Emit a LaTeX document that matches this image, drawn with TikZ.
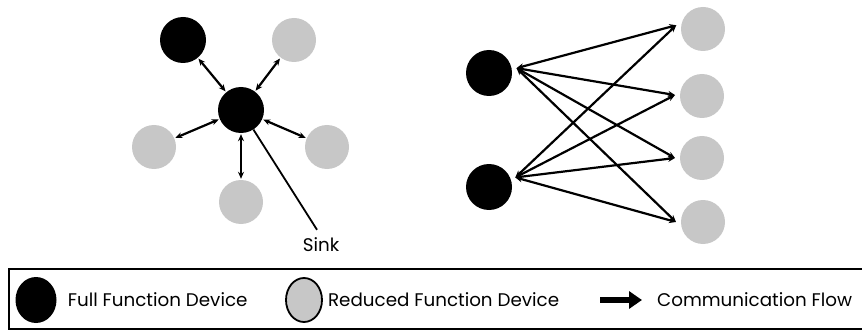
\documentclass[tikz,border=0pt]{standalone}
\usepackage{fontspec}
\setmainfont{Poppins}
\usetikzlibrary{arrows.meta, positioning, shapes.geometric}
\colorlet{device edge}{black}
\colorlet{device area}{black!22}
\tikzset{
  full/.style={circle, fill=black, minimum size=46pt, inner sep=0pt},
  reduced/.style={circle, fill=device area, minimum size=44pt, inner sep=0pt},
  link/.style={<->, line width=2.2pt, >={Stealth[length=7pt,width=6pt]}},
  label/.style={inner sep=0pt, font=\fontsize{18.3}{20}\selectfont},
  legend full/.style={ellipse, fill=black, minimum width=41pt, minimum height=46pt, inner sep=0pt},
  legend reduced/.style={ellipse, fill=device area, draw=device edge, line width=1.8pt, minimum width=36pt, minimum height=44pt, inner sep=0pt},
  flow/.style={-{Triangle[length=13pt,width=17pt]}, line width=6pt}
}
\begin{document}
\begin{tikzpicture}[x=1pt, y=-1pt]
    \useasboundingbox (0,0) rectangle (862,334);
    % star around the sink
    \node[full] (sink) at (241,110) {};
    \node[full] (fa) at (183,40) {};
    \node[reduced] (ra) at (294,40) {};
    \node[reduced] (rb) at (154,147) {};
    \node[reduced] (rc) at (327,147) {};
    \node[reduced] (rd) at (241,202) {};
    \node[label] (sinklabel) at (321,245) {Sink};
    \foreach \n in {fa, ra, rb, rc, rd}
        \draw[link, shorten <=1pt, shorten >=1pt] (sink) -- (\n);
    \draw[line width=1.8pt] (sink) -- ([xshift=-4pt, yshift=8pt]sinklabel.north);
    % full mesh
    \begin{scope}[every node/.append style={outer sep=5pt}]
    \node[full] (fb) at (489,73) {};
    \node[full] (fc) at (489,187) {};
    \node[reduced] (re) at (703,29) {};
    \node[reduced] (rf) at (702,96) {};
    \node[reduced] (rg) at (702,158) {};
    \node[reduced] (rh) at (703,222) {};
    \end{scope}
    \foreach \n/\a in {re/172, rf/178, rg/180, rh/180} {
        \draw[link] (fb.10) -- (\n.\a);
        \draw[link] (fc.20) -- (\n.\a);
    }
    % legend
    \draw[line width=2pt] (862,269) -- (9,269) -- (9,329) -- (862,329);
    \node[legend full] (legfull) at (36,300) {};
    \node[label, right=11pt of legfull] (fulltext) {Full Function Device};
    \node[legend reduced] (legred) at (304,300) {};
    \node[label, right=5pt of legred] (redtext) {Reduced Function Device};
    \coordinate (flowstart) at (600,300);
    \coordinate (flowend) at (642,300);
    \draw[flow] (flowstart) -- (flowend);
    \node[label, right=15pt of flowend] (flowtext) {Communication Flow};
\end{tikzpicture}
\end{document}
